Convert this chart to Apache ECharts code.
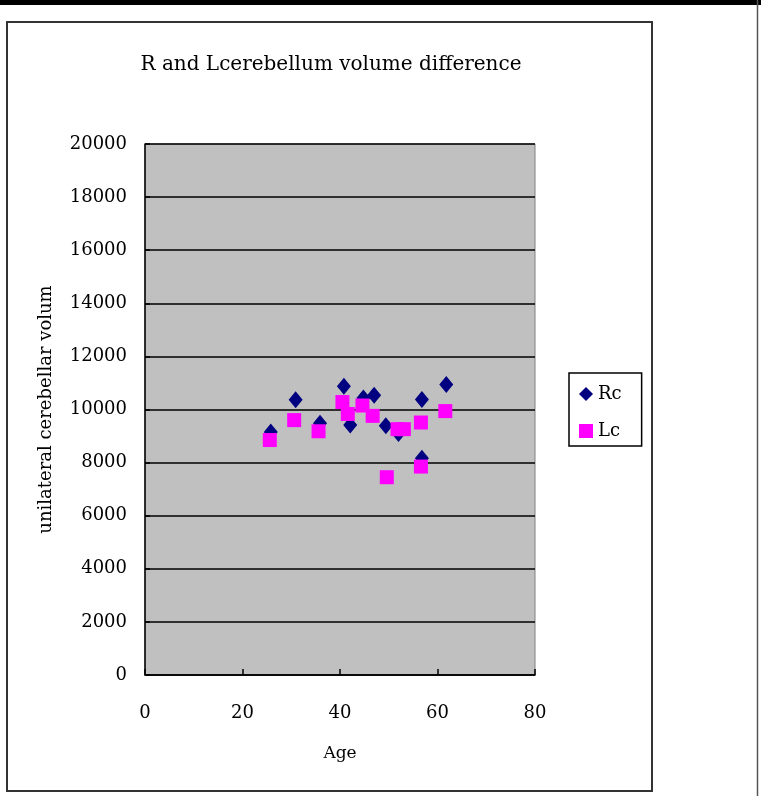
<!DOCTYPE html>
<html>
<head>
<meta charset="utf-8">
<script src="https://cdn.jsdelivr.net/npm/echarts@6/dist/echarts.min.js"></script>
<style>
  html, body { margin: 0; padding: 0; background: #ffffff; }
  #chart { width: 761px; height: 796px; }
</style>
</head>
<body>
<div id="chart"></div>
<script>
// Right cerebellum volumes by age
const rcAge = [25.8, 30.9, 35.9, 40.8, 42.1, 44.8, 47.0, 49.4, 52.0, 56.8, 56.8, 61.8];
const rcVolume = [9150, 10370, 9480, 10880, 9420, 10430, 10540, 9390, 9100, 10380, 8160, 10940];

// Left cerebellum volumes by age
const lcAge = [25.6, 30.6, 35.6, 40.5, 41.6, 44.6, 46.7, 49.6, 51.8, 53.1, 56.6, 56.6, 61.6];
const lcVolume = [8850, 9600, 9180, 10280, 9830, 10150, 9760, 7450, 9260, 9260, 9510, 7850, 9940];

const seriesNames = ['Rc', 'Lc'];
const xTicks = { min: 0, max: 80, step: 20 };
const yTicks = { min: 0, max: 20000, step: 2000 };

const serif = '"DejaVu Serif", "Liberation Serif", serif';

function pairs(xs, ys) {
  return xs.map((x, i) => [x, ys[i]]);
}

const chart = echarts.init(document.getElementById('chart'), null, { renderer: 'canvas' });

chart.setOption({
  backgroundColor: '#ffffff',
  animation: false,
  title: {
    text: 'R and Lcerebellum volume difference',
    left: 326,
    textAlign: 'center',
    top: 50,
    textStyle: { fontFamily: serif, fontSize: 20, fontWeight: 'normal', color: '#000' }
  },
  graphic: [
    { type: 'rect', shape: { x: 0, y: 0, width: 761, height: 5 }, style: { fill: '#000' }, silent: true },
    { type: 'rect', shape: { x: 7, y: 22, width: 645, height: 769 }, style: { fill: 'none', stroke: '#333', lineWidth: 2 }, silent: true, z: -1 },
    { type: 'line', shape: { x1: 757.5, y1: 0, x2: 757.5, y2: 796 }, style: { stroke: '#555', lineWidth: 1.5 }, silent: true }
  ],
  legend: {
    orient: 'vertical',
    left: 569,
    top: 373,
    padding: [12, 20, 6, 10],
    itemGap: 19,
    itemWidth: 14,
    itemHeight: 14,
    borderColor: '#000',
    borderWidth: 1.5,
    textStyle: { fontFamily: serif, fontSize: 18, color: '#000' },
    data: [
      { name: seriesNames[0], icon: 'diamond' },
      { name: seriesNames[1], icon: 'rect' }
    ]
  },
  grid: {
    left: 145, top: 144, width: 390, height: 531,
    show: true, backgroundColor: '#c0c0c0', borderColor: '#808080', borderWidth: 1
  },
  xAxis: {
    type: 'value',
    min: xTicks.min, max: xTicks.max, interval: xTicks.step,
    name: 'Age',
    nameLocation: 'middle',
    nameGap: 70,
    nameTextStyle: { fontFamily: serif, fontSize: 17, color: '#000' },
    axisLine: { show: true, lineStyle: { color: '#000', width: 1.5 } },
    axisTick: { show: true, inside: true, length: 6, lineStyle: { color: '#000', width: 1.5 } },
    axisLabel: { fontFamily: serif, fontSize: 18, color: '#000', margin: 29 },
    splitLine: { show: false }
  },
  yAxis: {
    type: 'value',
    min: yTicks.min, max: yTicks.max, interval: yTicks.step,
    name: 'unilateral cerebellar volum',
    nameLocation: 'middle',
    nameGap: 90,
    nameTextStyle: { fontFamily: serif, fontSize: 18, color: '#000' },
    axisLine: { show: true, lineStyle: { color: '#000', width: 1.5 } },
    axisTick: { show: true, inside: true, length: 5, lineStyle: { color: '#000', width: 1.5 } },
    axisLabel: { fontFamily: serif, fontSize: 18, color: '#000', margin: 18, formatter: (v) => String(v) },
    splitLine: { show: true, lineStyle: { color: '#000', width: 1.5 } }
  },
  series: [
    {
      name: seriesNames[0],
      type: 'scatter',
      symbol: 'diamond',
      symbolSize: [14, 17],
      itemStyle: { color: '#000080', opacity: 1 },
      data: pairs(rcAge, rcVolume)
    },
    {
      name: seriesNames[1],
      type: 'scatter',
      symbol: 'rect',
      symbolSize: 14,
      itemStyle: { color: '#ff00ff', opacity: 1 },
      data: pairs(lcAge, lcVolume)
    }
  ]
});
</script>
</body>
</html>
